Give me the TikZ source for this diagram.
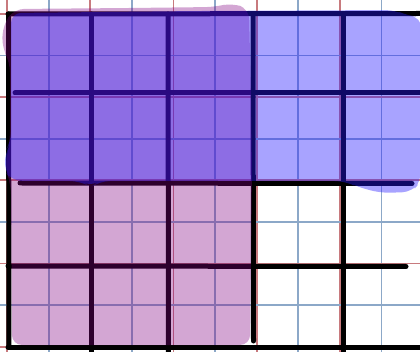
\documentclass[tikz,border=0pt]{standalone}
\usepackage{tikz}
\usetikzlibrary{calc}
\definecolor{gridblue}{RGB}{140,168,200}
\definecolor{gridred}{RGB}{200,122,126}
\definecolor{washblue}{RGB}{38,25,255}
\definecolor{washpink}{RGB}{131,0,131}
\begin{document}
\begin{tikzpicture}[x=1pt,y=-1pt,
  fineline/.style={line width=1.8pt},
  penline/.style={line width=5pt,line cap=round},
  pinkwash/.style={fill=washpink,opacity=0.35},
  bluewash/.style={fill=washblue,opacity=0.4}]
\useasboundingbox (0,0) rectangle (420,352);
\fill[white] (0,0) rectangle (420,352);
% fine paper grid
\foreach \xx in {7,90.2,173.4,256.6,339.8}
  \draw[fineline,gridred] (\xx,0) -- (\xx,352);
\foreach \xx in {48.6,131.8,215,298.2,381.4}
  \draw[fineline,gridblue] (\xx,0) -- (\xx,352);
\foreach \yy in {14,97.2,180.4,263.6,346.8}
  \draw[fineline,gridred] (0,\yy) -- (420,\yy);
\foreach \yy in {55.6,138.8,222,305.2}
  \draw[fineline,gridblue] (0,\yy) -- (420,\yy);
% pen lines
\draw[penline] (8,14) -- (420,13.5);
\draw[penline] (15,93) -- (420,93);
\draw[penline] (20,183) -- (412,183.5);
\draw[penline] (8,266) -- (406,266.5);
\draw[penline] (8,347) -- (420,347);
\draw[penline] (8.5,14) -- (9,347);
\draw[penline] (91,14) -- (91,354);
\draw[penline] (168,14) -- (168.5,354);
\draw[penline] (253,14) -- (253.5,341);
\draw[penline] (343,14) -- (343,354);
% highlighter areas
\fill[pinkwash,rounded corners=10pt] (14,9) -- (130,8) -- (215,7) -- (232,3)
  -- (249,9) -- (251,100) -- (252,170) -- (250,345) -- (12,345) -- (11,185)
  -- (5,168) -- (10,140) -- (10,62) -- (2,48) -- (3,25) -- cycle;
\fill[bluewash,rounded corners=10pt] (11,13) -- (200,11) -- (395,10)
  -- (408,16) -- (421,17) -- (421,181) -- (412,192) -- (380,193) -- (355,186)
  -- (345,181) -- (100,181) -- (91,187) -- (80,181) -- (12,181) -- (4,170)
  -- (6,150) -- (11,142) -- cycle;
\end{tikzpicture}
\end{document}
